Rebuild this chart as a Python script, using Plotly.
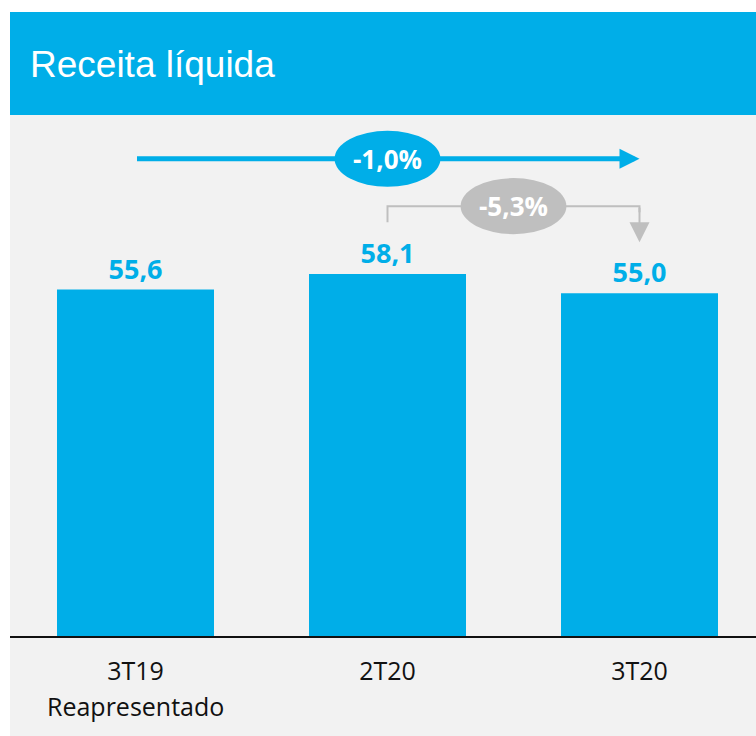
import plotly.graph_objects as go

# chart data
categories = ['3T19', '2T20', '3T20']
receita = [55.6, 58.1, 55.0]
sub_label = 'Reapresentado'
var_total = '-1,0%'
var_trim = '-5,3%'

BLUE = '#00AEE8'
GRAY = '#BFBFBF'
BG = '#F2F2F2'
# body margin is removed by post_script, figure fills the window
OFF = 0
W, H = 756 - OFF, 736 - OFF


def px(sx):
    return (sx - OFF) / W


def py(sy):
    return 1 - (sy - OFF) / H


xs = list(range(len(categories)))

fig = go.Figure()
fig.add_trace(go.Bar(x=xs, y=receita, width=0.623, marker=dict(color=BLUE, line=dict(width=0)),
                     texttemplate='%{y:.1f}', textposition='outside', cliponaxis=False,
                     hoverinfo='skip',
                     textfont=dict(family='Open Sans', size=27, color=BLUE, weight='bold')))

# arrow levels in data units
y_blue = 76.6
y_br = 69.0
y_br_start = 66.4
y_br_end = 63.2
rx, ry = 0.21, 4.5

shapes = [
    # background panels
    dict(type='rect', xref='paper', yref='paper', x0=px(10), x1=1, y0=0, y1=py(115),
         fillcolor=BG, line=dict(width=0), layer='below'),
    dict(type='rect', xref='paper', yref='paper', x0=px(10), x1=1, y0=py(115), y1=py(12),
         fillcolor=BLUE, line=dict(width=0), layer='below'),
    # gray bracket
    dict(type='path', xref='x', yref='y', path=f'M 1,{y_br_start} L 1,{y_br} L 2,{y_br} L 2,{y_br - 1}',
         line=dict(color=GRAY, width=2)),
    dict(type='circle', xref='x', yref='y', x0=1.5 - rx, x1=1.5 + rx, y0=y_br - ry, y1=y_br + ry,
         fillcolor=GRAY, line=dict(width=0)),
    # blue ellipse
    dict(type='circle', xref='x', yref='y', x0=1 - rx, x1=1 + rx,
         y0=y_blue - ry, y1=y_blue + ry, fillcolor=BLUE, line=dict(width=0)),
]

annotations = [
    dict(text='Receita líquida', xref='paper', yref='paper', x=px(28), y=py(65),
         xanchor='left', yanchor='middle', showarrow=False,
         font=dict(family='Liberation Sans', size=37, color='white')),
    # blue arrow
    dict(x=2, y=y_blue, ax=0, ay=y_blue, xref='x', yref='y', axref='x', ayref='y', text='',
         showarrow=True, arrowhead=2, arrowsize=0.8, arrowwidth=5, arrowcolor=BLUE),
    # gray arrow down
    dict(x=2, y=y_br_end, ax=2, ay=y_br, xref='x', yref='y', axref='x', ayref='y', text='',
         showarrow=True, arrowhead=2, arrowsize=2, arrowwidth=2, arrowcolor=GRAY),
    dict(text=var_total, x=1, y=y_blue, xref='x', yref='y', showarrow=False,
         font=dict(family='Open Sans', size=26, color='white', weight='bold')),
    dict(text=var_trim, x=1.5, y=y_br, xref='x', yref='y', showarrow=False,
         font=dict(family='Open Sans', size=26, color='white', weight='bold')),
    dict(text=sub_label, x=0, y=py(706), xref='x', yref='paper', showarrow=False,
         yanchor='middle', font=dict(family='Open Sans', size=25, color='#111111')),
]

fig.update_layout(
    width=W, height=H, margin=dict(l=0, r=0, t=0, b=0),
    paper_bgcolor='white', plot_bgcolor='rgba(0,0,0,0)',
    separators=',.', showlegend=False,
    shapes=shapes, annotations=annotations,
    xaxis=dict(domain=[px(10), 1], range=[(10 - 135.5) / 252, (756 - 135.5) / 252],
               tickvals=xs, ticktext=categories, showgrid=False, zeroline=False,
               showline=True, linecolor='#111111', linewidth=2, ticks='',
               ticklabelstandoff=12,
               tickfont=dict(family='Open Sans', size=25, color='#111111'),
               automargin=False, fixedrange=True),
    yaxis=dict(domain=[py(636), py(115)], range=[0, 521 / 6.23], visible=False,
               automargin=False, fixedrange=True),
)

fig.write_html('out.html', config={'displayModeBar': False},
               post_script="document.body.style.margin='0';"
                           "document.body.style.overflow='hidden';")
